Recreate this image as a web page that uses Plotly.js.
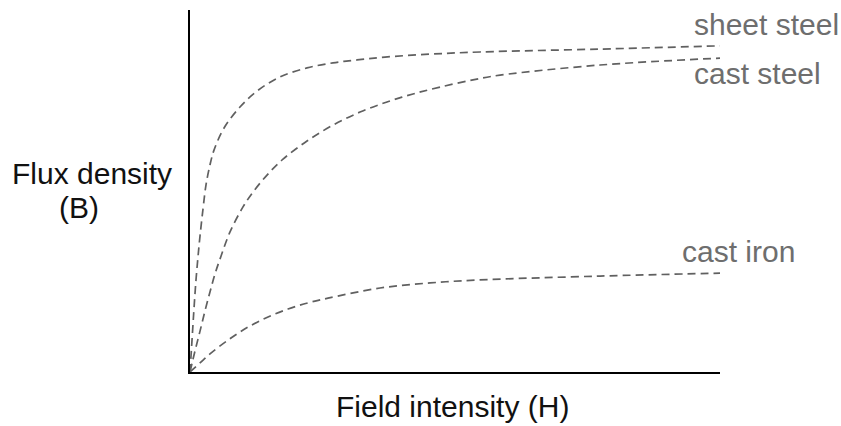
<!DOCTYPE html>
<html>
<head>
<meta charset="utf-8">
<script src="https://cdn.plot.ly/plotly-3.0.1.min.js"></script>
<style>
html,body{margin:0;padding:0;background:#fff;}
#chart{width:841px;height:426px;}
</style>
</head>
<body>
<div id="chart"></div>
<script>
// Field intensity H (relative units, 0-100) and flux density B (relative units, 0-100)
const sheetSteelH = [0, 0.38, 0.75, 1.13, 1.51, 1.89, 2.45, 3.02, 3.77, 4.53, 6.42, 9.43, 12.64, 16.98, 22.08, 26.98, 31.51, 36.79, 45.28, 54.72, 77.36, 100];
const sheetSteelB = [0, 8.8, 17.4, 25.4, 31.8, 37.6, 45.0, 51.7, 57.2, 61.3, 67.4, 73.2, 77.6, 81.5, 84.0, 85.4, 86.2, 87.0, 87.8, 88.4, 89.2, 90.1];

const castSteelH = [0, 0.94, 1.89, 2.83, 3.77, 4.72, 5.85, 7.55, 10.0, 11.89, 14.53, 17.55, 22.08, 26.98, 32.08, 37.17, 42.08, 47.17, 53.40, 58.49, 77.36, 100];
const castSteelB = [0, 5.8, 11.3, 16.9, 22.1, 27.1, 32.0, 38.7, 45.6, 49.7, 54.4, 58.8, 63.8, 68.2, 71.8, 74.6, 76.8, 78.7, 80.7, 82.0, 84.8, 86.7];

const castIronH = [0, 1.89, 3.77, 7.17, 10.94, 14.72, 18.49, 22.26, 26.04, 35.85, 45.28, 54.15, 77.36, 100];
const castIronB = [0, 2.5, 5.0, 8.8, 12.4, 15.2, 17.4, 19.1, 20.4, 23.2, 24.6, 25.4, 26.5, 27.3];

const seriesNames = ["sheet steel", "cast steel", "cast iron"];
const xTitle = "Field intensity (H)";
const yTitleLines = ["Flux density", "(B)"];

const lineStyle = {color: "#606060", width: 1.7, dash: "8px,5px", shape: "spline", smoothing: 1};

const traces = [
  {x: sheetSteelH, y: sheetSteelB, name: seriesNames[0]},
  {x: castSteelH, y: castSteelB, name: seriesNames[1]},
  {x: castIronH, y: castIronB, name: seriesNames[2]}
].map(t => Object.assign(t, {type: "scatter", mode: "lines", line: lineStyle, hoverinfo: "skip"}));

const font = "Liberation Sans, Arial, sans-serif";
const labelFont = {family: font, size: 30, color: "#6e6e6e"};
const titleFont = {family: font, size: 30, color: "#111111"};

// paper positions derived from pixel layout of plot area (190..720 x, 10..372 y)
const px = v => (v - 190) / 530;
const py = v => (372 - v) / 362;

const annotations = [
  {text: seriesNames[0], x: px(692), y: py(24), xanchor: "left", yanchor: "middle", font: labelFont},
  {text: seriesNames[1], x: px(692), y: py(73), xanchor: "left", yanchor: "middle", font: labelFont},
  {text: seriesNames[2], x: px(680), y: py(252), xanchor: "left", yanchor: "middle", font: labelFont},
  {text: yTitleLines[0], x: px(92), y: py(173), xanchor: "center", yanchor: "middle", font: titleFont},
  {text: yTitleLines[1], x: px(79), y: py(207), xanchor: "center", yanchor: "middle", font: titleFont},
  {text: xTitle, x: px(452), y: py(406), xanchor: "center", yanchor: "middle", font: titleFont}
].map(a => Object.assign(a, {xref: "paper", yref: "paper", showarrow: false}));

const layout = {
  width: 841, height: 426,
  margin: {l: 190, r: 121, t: 10, b: 54, pad: 0},
  paper_bgcolor: "#ffffff", plot_bgcolor: "#ffffff",
  showlegend: false,
  xaxis: {range: [0, 100], showline: true, linecolor: "#000000", linewidth: 2, showgrid: false, zeroline: false, showticklabels: false, ticks: "", fixedrange: true},
  yaxis: {range: [0, 100], showline: true, linecolor: "#000000", linewidth: 2, showgrid: false, zeroline: false, showticklabels: false, ticks: "", fixedrange: true},
  annotations: annotations
};

Plotly.newPlot("chart", traces, layout, {staticPlot: true, displayModeBar: false});
</script>
</body>
</html>
